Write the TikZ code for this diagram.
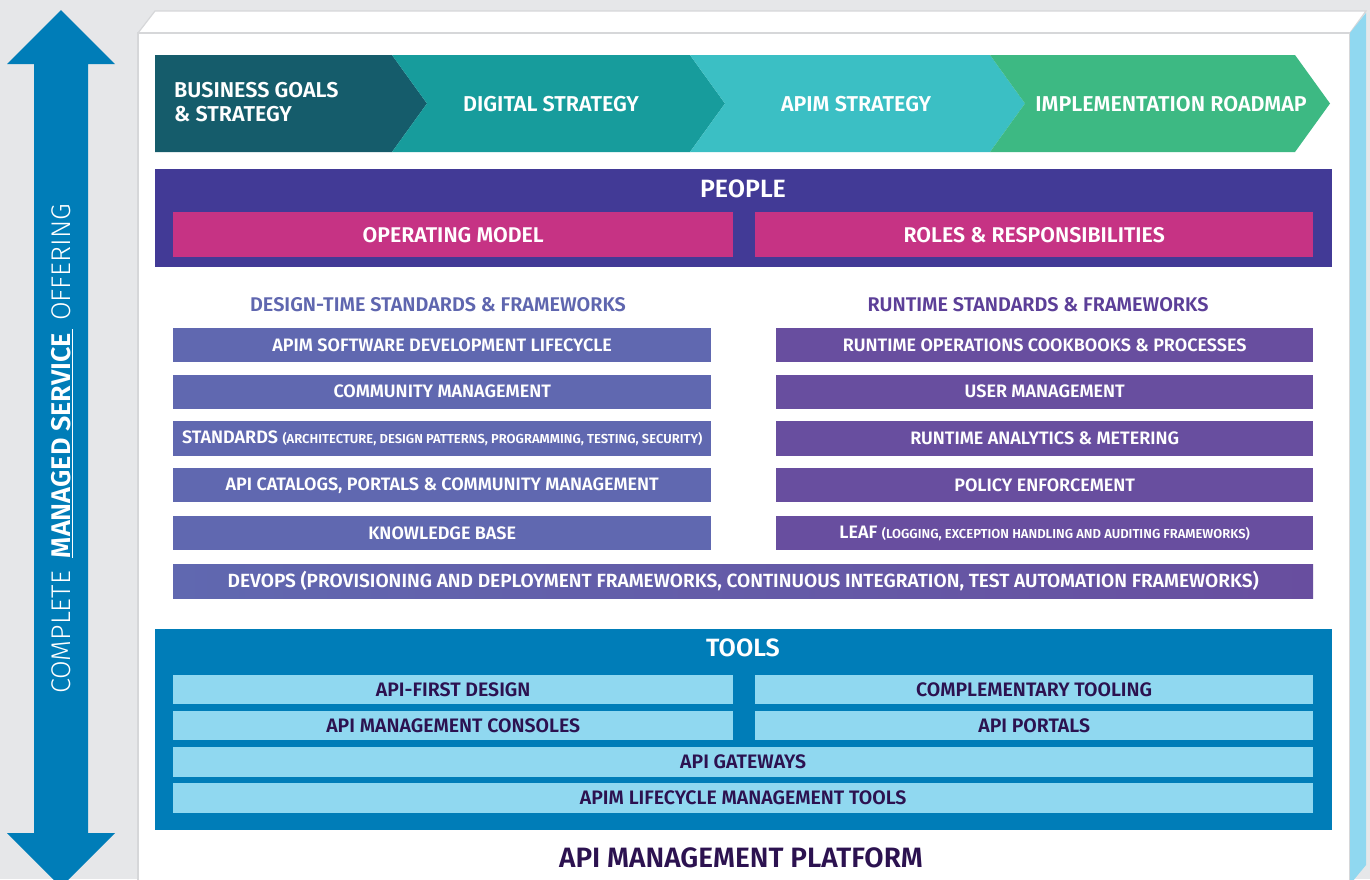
\documentclass[tikz,border=0pt]{standalone}
\usepackage{fontspec}
\IfFontExistsTF{Fira Sans SemiBold}{\setmainfont{Fira Sans}[BoldFont={Fira Sans SemiBold}]}{\setmainfont{Fira Sans}}
\IfFontExistsTF{Fira Sans Light}{\newfontfamily\lightfont{Fira Sans Light}}{\newfontfamily\lightfont{Fira Sans}}
\definecolor{bggray}{HTML}{E6E7E9}
\definecolor{edgegray}{HTML}{D6D7D9}
\definecolor{arrowblue}{HTML}{007DB8}
\definecolor{sideblue}{HTML}{90D8F0}
\definecolor{chevA}{HTML}{155C6B}
\definecolor{chevB}{HTML}{179C9C}
\definecolor{chevC}{HTML}{3BBFC4}
\definecolor{chevD}{HTML}{3DB983}
\definecolor{peoplebg}{HTML}{423A96}
\definecolor{pinkbar}{HTML}{C63384}
\definecolor{dtbar}{HTML}{6068B0}
\definecolor{rtbar}{HTML}{684E9F}
\definecolor{dthead}{HTML}{5F66AF}
\definecolor{rthead}{HTML}{5C3F98}
\definecolor{toolsbg}{HTML}{007DB8}
\definecolor{toolbar}{HTML}{90D8F0}
\definecolor{darktext}{HTML}{2C1250}
\tikzset{
  chevtxt/.style={text=white, inner sep=0pt, font=\bfseries\fontsize{21.5}{24}\selectfont},
  bigtitle/.style={text=white, inner sep=0pt, font=\bfseries\fontsize{25}{28}\selectfont},
  bar/.style={anchor=north west, inner sep=0pt, text=white, font=\bfseries\fontsize{18}{21}\selectfont},
  pinkbox/.style={bar, fill=pinkbar, minimum width=559pt, minimum height=45pt, font=\bfseries\fontsize{21.3}{24}\selectfont},
  dtbox/.style={bar, fill=dtbar, minimum width=538pt, minimum height=34pt},
  rtbox/.style={bar, fill=rtbar, minimum width=537pt, minimum height=34pt},
  toolhalf/.style={bar, fill=toolbar, text=darktext, minimum width=560pt, minimum height=29pt, font=\bfseries\fontsize{19.5}{22}\selectfont},
  toolfull/.style={toolhalf, minimum width=1140pt},
  heading/.style={inner sep=0pt, font=\bfseries\fontsize{19.8}{23}\selectfont}
}
\begin{document}
\begin{tikzpicture}[x=1pt,y=-1pt]
\useasboundingbox (0,0) rectangle (1370,879);
\clip (0,0) rectangle (1370,879);
\fill[bggray] (0,0) rectangle (1370,879);
% 3D board
\filldraw[fill=white, draw=edgegray, line width=1.2pt] (138,33) -- (155,11) -- (1366,11) -- (1350,33) -- cycle;
\filldraw[fill=white, draw=edgegray, line width=1.2pt] (138,890) -- (138,33) -- (1350,33) -- (1350,890);
\fill[sideblue] (1350,33) -- (1366,13) -- (1366,865) -- (1352,882) -- (1350,882) -- cycle;
% double arrow
\fill[arrowblue] (61,10) -- (115,64) -- (88,64) -- (88,833) -- (115,833) -- (61,887) -- (7,833) -- (34,833) -- (34,64) -- (7,64) -- cycle;
\node[rotate=90, text=white, inner sep=0pt, font=\fontsize{27}{30}\selectfont] (offer) at (62,449)
  {{\lightfont COMPLETE}\hspace{13pt}\underline{\bfseries MANAGED SERVICE\hspace{4pt}}\hspace{8pt}{\lightfont OFFERING}};
% chevrons
\fill[chevA] (155,55) -- (392,55) -- (427,103.5) -- (392,152) -- (155,152) -- cycle;
\fill[chevB] (392,55) -- (690,55) -- (725,103.5) -- (690,152) -- (392,152) -- (427,103.5) -- cycle;
\fill[chevC] (690,55) -- (990,55) -- (1025,103.5) -- (990,152) -- (690,152) -- (725,103.5) -- cycle;
\fill[chevD] (990,55) -- (1295,55) -- (1330,103.5) -- (1295,152) -- (990,152) -- (1025,103.5) -- cycle;
\node[chevtxt, anchor=west, align=left] (bgs) at (174,102) {BUSINESS GOALS\\\& STRATEGY};
\node[chevtxt] (ds) at (551,104) {DIGITAL STRATEGY};
\node[chevtxt] (as) at (856,104) {APIM STRATEGY};
\node[chevtxt] (ir) at (1171,104) {IMPLEMENTATION ROADMAP};
% people
\fill[peoplebg] (155,169) rectangle (1332,267);
\node[bigtitle] (people) at (743,189) {PEOPLE};
\node[pinkbox, minimum width=560pt] (opm) at (173,212) {OPERATING MODEL};
\node[pinkbox, minimum width=558pt] (roles) at (755,212) {ROLES \& RESPONSIBILITIES};
% standards headings
\node[heading, text=dthead] (dth) at (438,305) {DESIGN-TIME STANDARDS \& FRAMEWORKS};
\node[heading, text=rthead] (rth) at (1038,305) {RUNTIME STANDARDS \& FRAMEWORKS};
% design-time rows
\node[dtbox] (l1) at (173,328) {APIM SOFTWARE DEVELOPMENT LIFECYCLE};
\node[dtbox] (l2) at (173,374.5) {COMMUNITY MANAGEMENT};
\node[dtbox, minimum height=35pt] (l3) at (173,421) {STANDARDS {\fontsize{13}{15}\selectfont (ARCHITECTURE, DESIGN PATTERNS, PROGRAMMING, TESTING, SECURITY)}};
\node[dtbox] (l4) at (173,468) {API CATALOGS, PORTALS \& COMMUNITY MANAGEMENT};
\node[dtbox] (l5) at (173,516) {KNOWLEDGE BASE};
% runtime rows
\node[rtbox] (r1) at (776,328) {RUNTIME OPERATIONS COOKBOOKS \& PROCESSES};
\node[rtbox] (r2) at (776,374.5) {USER MANAGEMENT};
\node[rtbox, minimum height=35pt] (r3) at (776,421) {RUNTIME ANALYTICS \& METERING};
\node[rtbox] (r4) at (776,468) {POLICY ENFORCEMENT};
\node[rtbox] (r5) at (776,516) {LEAF {\fontsize{13}{15}\selectfont (LOGGING, EXCEPTION HANDLING AND AUDITING FRAMEWORKS)}};
% devops
\node[bar, left color=dtbar, right color=rtbar, minimum width=1140pt, minimum height=34pt, font=\bfseries\fontsize{19.1}{22}\selectfont] (devops) at (173,564)
  {DEVOPS (PROVISIONING AND DEPLOYMENT FRAMEWORKS, CONTINUOUS INTEGRATION, TEST AUTOMATION FRAMEWORKS)};
% tools
\fill[toolsbg] (155,629) rectangle (1332,830);
\node[bigtitle] (tools) at (743,648) {TOOLS};
\node[toolhalf] (t1) at (173,675) {API-FIRST DESIGN};
\node[toolhalf, minimum width=558pt] (t2) at (755,675) {COMPLEMENTARY TOOLING};
\node[toolhalf] (t3) at (173,711) {API MANAGEMENT CONSOLES};
\node[toolhalf, minimum width=558pt] (t4) at (755,711) {API PORTALS};
\node[toolfull, minimum height=30pt] (t5) at (173,747) {API GATEWAYS};
\node[toolfull, minimum height=30pt] (t6) at (173,783) {APIM LIFECYCLE MANAGEMENT TOOLS};
% platform label
\node[text=darktext, inner sep=0pt, font=\bfseries\fontsize{28}{32}\selectfont] (platform) at (741,858) {API MANAGEMENT PLATFORM};
\end{tikzpicture}
\end{document}
